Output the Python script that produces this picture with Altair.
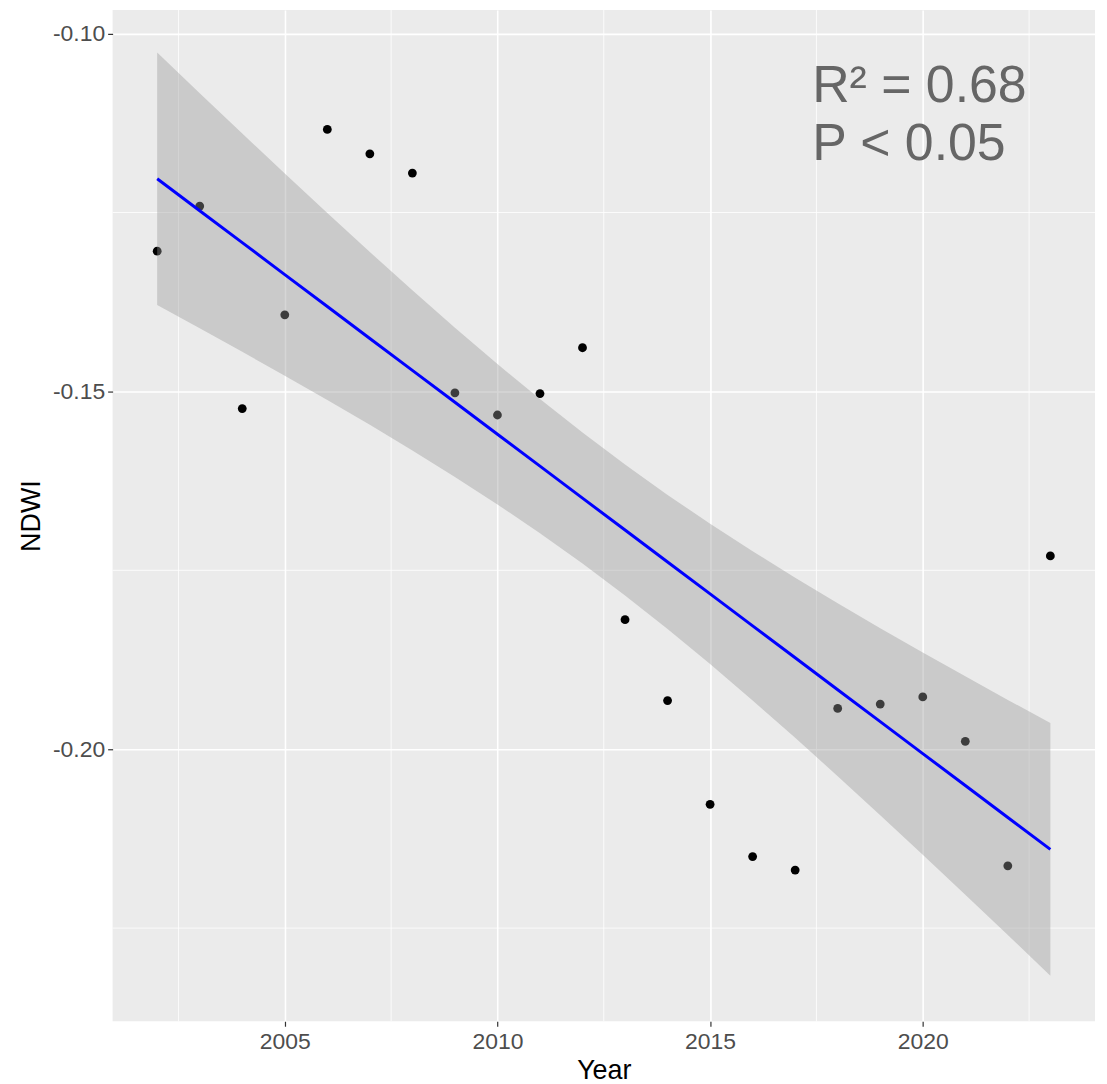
import numpy as np
import pandas as pd
import altair as alt

# NDWI per year
years = [2002, 2003, 2004, 2005, 2006, 2007, 2008, 2009, 2010, 2011, 2012,
         2013, 2014, 2015, 2016, 2017, 2018, 2019, 2020, 2021, 2022, 2023]
ndwi = [-0.1304, -0.1241, -0.1524, -0.1393, -0.1134, -0.1168, -0.1195,
        -0.1502, -0.1533, -0.1503, -0.1439, -0.1819, -0.1932, -0.2077,
        -0.2150, -0.2169, -0.1943, -0.1937, -0.1927, -0.1989, -0.2163, -0.1730]

# axis ticks and the minor grid of the ggplot-style panel
x_ticks = [2005, 2010, 2015, 2020]
x_minor = [2002.5, 2007.5, 2012.5, 2017.5, 2022.5]
y_ticks = [-0.10, -0.15, -0.20]
y_minor = [-0.125, -0.175, -0.225]

# annotation in the upper right corner (two lines, one text mark)
note_lines = ["R² = 0.68", "P < 0.05"]
note_x = 2017.4
note_y = -0.1095

points = pd.DataFrame({"Year": years, "NDWI": ndwi})

# linear fit with a 95% confidence band (same as geom_smooth(method="lm"))
x = np.array(years, dtype=float)
y = np.array(ndwi)
n = len(x)
slope, intercept = np.polyfit(x, y, 1)
fitted = intercept + slope * x
s = np.sqrt(np.sum((y - fitted) ** 2) / (n - 2))
sxx = np.sum((x - x.mean()) ** 2)
t975 = 2.086  # t quantile, 20 degrees of freedom
half = t975 * s * np.sqrt(1 / n + (x - x.mean()) ** 2 / sxx)
fit = pd.DataFrame({"Year": x, "fit": fitted, "lo": fitted - half, "hi": fitted + half})

x_scale = alt.Scale(domain=[2000.952, 2024.05], nice=False, zero=False)
y_scale = alt.Scale(domain=[-0.23802, -0.0967], nice=False, zero=False)

x_axis = alt.Axis(values=x_ticks, format="d", title="Year", grid=True,
                  gridColor="white", gridWidth=1.6, domain=False,
                  tickColor="#333333", tickSize=5, tickWidth=1.2,
                  labelColor="#4D4D4D", labelFontSize=23, labelPadding=4,
                  labelFont="Liberation Sans", titleFont="Liberation Sans",
                  titleFontSize=27, titleFontWeight="normal", titleColor="black",
                  titlePadding=4)
y_axis = alt.Axis(values=y_ticks, title="NDWI", grid=True,
                  labelExpr="replace(format(datum.value, '.2f'), '\u2212', '-')",
                  gridColor="white", gridWidth=1.6, domain=False,
                  tickColor="#333333", tickSize=5, tickWidth=1.2,
                  labelColor="#4D4D4D", labelFontSize=23, labelPadding=3,
                  labelFont="Liberation Sans", titleFont="Liberation Sans",
                  titleFontSize=27, titleFontWeight="normal", titleColor="black",
                  titlePadding=7)

minor_v = alt.Chart(pd.DataFrame({"x": x_minor})).mark_rule(
    color="white", strokeWidth=0.8
).encode(x=alt.X("x:Q", scale=x_scale, axis=x_axis))

minor_h = alt.Chart(pd.DataFrame({"y": y_minor})).mark_rule(
    color="white", strokeWidth=0.8
).encode(y=alt.Y("y:Q", scale=y_scale, axis=y_axis))

dots = alt.Chart(points).mark_circle(size=78, color="black", opacity=1).encode(
    x=alt.X("Year:Q", scale=x_scale),
    y=alt.Y("NDWI:Q", scale=y_scale),
)

band = alt.Chart(fit).mark_area(color="#999999", opacity=0.4).encode(
    x=alt.X("Year:Q", scale=x_scale),
    y=alt.Y("lo:Q", scale=y_scale),
    y2="hi:Q",
)

line = alt.Chart(fit).mark_line(color="#0000FF", strokeWidth=3).encode(
    x=alt.X("Year:Q", scale=x_scale),
    y=alt.Y("fit:Q", scale=y_scale),
)

notes = alt.Chart(pd.DataFrame({"x": [note_x], "y": [note_y], "t": [note_lines]})).mark_text(
    align="left", baseline="alphabetic", font="Liberation Sans", fontSize=52,
    lineHeight=59, color="#666666"
).encode(
    x=alt.X("x:Q", scale=x_scale),
    y=alt.Y("y:Q", scale=y_scale),
    text="t",
)

chart = alt.layer(minor_v, minor_h, dots, band, line, notes).properties(
    width=986,
    height=1015,
    autosize=alt.AutoSizeParams(type="none"),
    padding={"left": 105, "top": 0, "right": 4, "bottom": 62},
).configure_view(
    fill="#EBEBEB", stroke=None
)

chart.save("out.html", embed_options={"renderer": "svg", "actions": False})
